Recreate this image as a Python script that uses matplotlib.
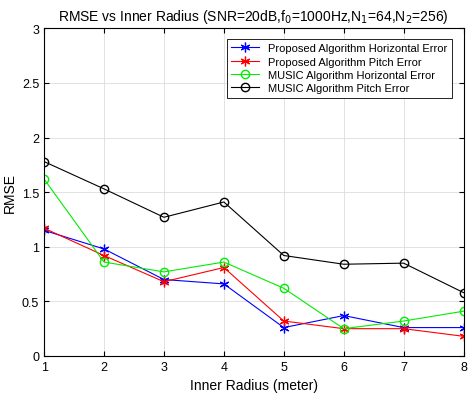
import matplotlib
matplotlib.use("Agg")
import matplotlib.pyplot as plt

x = [1, 2, 3, 4, 5, 6, 7, 8]
blue = [1.15, 0.98, 0.70, 0.66, 0.26, 0.37, 0.26, 0.26]
red = [1.17, 0.92, 0.68, 0.81, 0.32, 0.25, 0.25, 0.18]
green = [1.62, 0.86, 0.77, 0.86, 0.62, 0.25, 0.32, 0.41]
black = [1.78, 1.53, 1.27, 1.41, 0.92, 0.84, 0.85, 0.58]
labels = ["Proposed Algorithm Horizontal Error", "Proposed Algorithm Pitch Error",
          "MUSIC Algorithm Horizontal Error", "MUSIC Algorithm Pitch Error"]

plt.rcParams['font.family'] = ['Liberation Sans', 'DejaVu Sans']
fig = plt.figure(figsize=(4.74, 4.02), dpi=100)
ax = fig.add_axes([0.093, 0.112, 0.885, 0.815])
ast = (6, 2, 0)
ax.plot(x, blue, '-', marker=ast, color='blue', lw=0.8, ms=7, mew=0.9, label=labels[0])
ax.plot(x, red, '-', marker=ast, color='red', lw=0.8, ms=7, mew=0.9, label=labels[1])
ax.plot(x, green, '-o', color='#00ee00', lw=0.8, ms=6, mfc='none', label=labels[2])
ax.plot(x, black, '-o', color='black', lw=0.8, ms=6, mfc='none', label=labels[3])
ax.set_xlim(1, 8)
ax.set_ylim(0, 3)
ax.set_xticks(x)
ax.set_yticks([0, 0.5, 1, 1.5, 2, 2.5, 3])
ax.set_yticklabels(['0', '0.5', '1', '1.5', '2', '2.5', '3'])
ax.grid(True, color='#dddddd', lw=0.6)
ax.tick_params(direction='in', labelsize=9, top=True, right=True)
ax.set_xlabel('Inner Radius (meter)', fontsize=10)
ax.set_ylabel('RMSE', fontsize=10)
ax.set_title(r'RMSE vs Inner Radius (SNR=20dB,f$_0$=1000Hz,N$_1$=64,N$_2$=256)', fontsize=10)
leg = ax.legend(loc='upper right', fontsize=8, fancybox=False, edgecolor='black', framealpha=1,
                handlelength=2.5, borderpad=0.4, labelspacing=0.3, bbox_to_anchor=(0.985, 0.985))
leg.get_frame().set_linewidth(0.6)
fig.savefig('out.png', dpi=100)
